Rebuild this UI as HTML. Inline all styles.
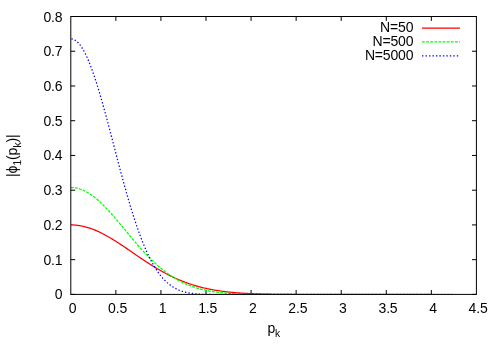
<!DOCTYPE html>
<html><head><meta charset="utf-8"><title>plot</title>
<style>
html,body{margin:0;padding:0;background:#fff;}
body{width:500px;height:350px;overflow:hidden;}
svg{display:block;}
text{font-family:"Liberation Sans",sans-serif;font-size:14.00px;fill:#000;letter-spacing:-0.17px;}
</style></head><body>
<svg width="500" height="350" viewBox="0 0 500 350">
<rect width="500" height="350" fill="#fff"/>
<defs><clipPath id="pc"><rect x="70.80" y="16.50" width="405.60" height="277.90"/></clipPath></defs>
<g stroke="#000" stroke-width="1" fill="none">
<path d="M115.87,294.40v-4.4 M115.87,16.50v4.4"/>
<path d="M160.93,294.40v-4.4 M160.93,16.50v4.4"/>
<path d="M206.00,294.40v-4.4 M206.00,16.50v4.4"/>
<path d="M251.07,294.40v-4.4 M251.07,16.50v4.4"/>
<path d="M296.13,294.40v-4.4 M296.13,16.50v4.4"/>
<path d="M341.20,294.40v-4.4 M341.20,16.50v4.4"/>
<path d="M386.27,294.40v-4.4 M386.27,16.50v4.4"/>
<path d="M431.33,294.40v-4.4 M431.33,16.50v4.4"/>
<path d="M70.80,294.40h4.4 M476.40,294.40h-4.4"/>
<path d="M70.80,259.66h4.4 M476.40,259.66h-4.4"/>
<path d="M476.40,224.92h-4.4"/>
<path d="M70.80,190.19h4.4 M476.40,190.19h-4.4"/>
<path d="M70.80,155.45h4.4 M476.40,155.45h-4.4"/>
<path d="M70.80,120.71h4.4 M476.40,120.71h-4.4"/>
<path d="M70.80,85.97h4.4 M476.40,85.97h-4.4"/>
<path d="M70.80,51.24h4.4 M476.40,51.24h-4.4"/>
<path d="M70.80,16.50h4.4 M476.40,16.50h-4.4"/>
</g>
<g fill="none" stroke-width="1.25" stroke-linejoin="round" clip-path="url(#pc)">
<path d="M70.80,224.92 L71.70,224.92 L72.60,224.95 L73.50,224.98 L74.41,225.04 L75.31,225.10 L76.21,225.19 L77.11,225.28 L78.01,225.39 L78.91,225.52 L79.81,225.66 L80.71,225.82 L81.62,225.99 L82.52,226.17 L83.42,226.37 L84.32,226.58 L85.22,226.81 L86.12,227.05 L87.02,227.30 L87.93,227.57 L88.83,227.85 L89.73,228.14 L90.63,228.45 L91.53,228.77 L92.43,229.10 L93.33,229.44 L94.23,229.80 L95.14,230.17 L96.04,230.55 L96.94,230.94 L97.84,231.34 L98.74,231.76 L99.64,232.18 L100.54,232.61 L101.45,233.06 L102.35,233.51 L103.25,233.98 L104.15,234.45 L105.05,234.94 L105.95,235.43 L106.85,235.93 L107.75,236.44 L108.66,236.95 L109.56,237.48 L110.46,238.01 L111.36,238.55 L112.26,239.09 L113.16,239.65 L114.06,240.20 L114.97,240.77 L115.87,241.34 L116.77,241.91 L117.67,242.49 L118.57,243.08 L119.47,243.67 L120.37,244.26 L121.27,244.86 L122.18,245.46 L123.08,246.06 L123.98,246.67 L124.88,247.28 L125.78,247.89 L126.68,248.50 L127.58,249.12 L128.49,249.74 L129.39,250.35 L130.29,250.97 L131.19,251.59 L132.09,252.21 L132.99,252.83 L133.89,253.45 L134.79,254.07 L135.70,254.69 L136.60,255.31 L137.50,255.92 L138.40,256.54 L139.30,257.15 L140.20,257.76 L141.10,258.37 L142.01,258.97 L142.91,259.58 L143.81,260.18 L144.71,260.78 L145.61,261.37 L146.51,261.96 L147.41,262.55 L148.31,263.13 L149.22,263.71 L150.12,264.29 L151.02,264.86 L151.92,265.43 L152.82,265.99 L153.72,266.55 L154.62,267.10 L155.53,267.65 L156.43,268.19 L157.33,268.73 L158.23,269.26 L159.13,269.78 L160.03,270.30 L160.93,270.82 L161.83,271.33 L162.74,271.83 L163.64,272.32 L164.54,272.81 L165.44,273.30 L166.34,273.78 L167.24,274.25 L168.14,274.71 L169.05,275.17 L169.95,275.62 L170.85,276.07 L171.75,276.51 L172.65,276.94 L173.55,277.37 L174.45,277.78 L175.35,278.20 L176.26,278.60 L177.16,279.00 L178.06,279.39 L178.96,279.78 L179.86,280.16 L180.76,280.53 L181.66,280.90 L182.57,281.26 L183.47,281.61 L184.37,281.95 L185.27,282.29 L186.17,282.63 L187.07,282.95 L187.97,283.27 L188.87,283.59 L189.78,283.89 L190.68,284.19 L191.58,284.49 L192.48,284.78 L193.38,285.06 L194.28,285.33 L195.18,285.60 L196.09,285.87 L196.99,286.13 L197.89,286.38 L198.79,286.62 L199.69,286.87 L200.59,287.10 L201.49,287.33 L202.39,287.55 L203.30,287.77 L204.20,287.99 L205.10,288.19 L206.00,288.40 L206.90,288.59 L207.80,288.79 L208.70,288.97 L209.61,289.16 L210.51,289.33 L211.41,289.51 L212.31,289.68 L213.21,289.84 L214.11,290.00 L215.01,290.15 L215.91,290.30 L216.82,290.45 L217.72,290.59 L218.62,290.73 L219.52,290.87 L220.42,291.00 L221.32,291.12 L222.22,291.25 L223.13,291.37 L224.03,291.48 L224.93,291.59 L225.83,291.70 L226.73,291.81 L227.63,291.91 L228.53,292.01 L229.43,292.11 L230.34,292.20 L231.24,292.29 L232.14,292.38 L233.04,292.46 L233.94,292.54 L234.84,292.62 L235.74,292.70 L236.65,292.77 L237.55,292.84 L238.45,292.91 L239.35,292.98 L240.25,293.04 L241.15,293.10 L242.05,293.16 L242.95,293.22 L243.86,293.28 L244.76,293.33 L245.66,293.38 L246.56,293.43 L247.46,293.48 L248.36,293.53 L249.26,293.57 L250.17,293.61 L251.07,293.65 L251.97,293.69 L252.87,293.73 L253.77,293.77 L254.67,293.81 L255.57,293.84 L256.47,293.87 L257.38,293.90 L258.28,293.93 L259.18,293.96 L260.08,293.99 L260.98,294.02 L261.88,294.04 L262.78,294.07 L263.69,294.09 L264.59,294.12 L265.49,294.14 L266.39,294.16 L267.29,294.18 L268.19,294.20 L269.09,294.22 L269.99,294.23 L270.90,294.25 L271.80,294.27 L272.70,294.28 L273.60,294.30 L274.50,294.31 L275.40,294.33 L276.30,294.34 L277.21,294.35 L278.11,294.36 L279.01,294.38 L279.91,294.39 L280.81,294.40 L281.71,294.41 L282.61,294.42 L283.51,294.43 L284.42,294.43 L285.32,294.44 L286.22,294.45 L287.12,294.46 L288.02,294.46 L288.92,294.47 L289.82,294.48 L290.73,294.48 L291.63,294.49 L292.53,294.50 L293.43,294.50 L294.33,294.51 L295.23,294.51 L296.13,294.52 L297.03,294.52 L297.94,294.52 L298.84,294.53 L299.74,294.53 L300.64,294.54 L301.54,294.54 L302.44,294.54 L303.34,294.55 L304.25,294.55 L305.15,294.55 L306.05,294.55 L306.95,294.56 L307.85,294.56 L308.75,294.56 L309.65,294.56 L310.55,294.57 L311.46,294.57 L312.36,294.57 L313.26,294.57 L314.16,294.57 L315.06,294.57 L315.96,294.58 L316.86,294.58 L317.77,294.58 L318.67,294.58 L319.57,294.58 L320.47,294.58 L321.37,294.58 L322.27,294.58 L323.17,294.58 L324.07,294.59 L324.98,294.59 L325.88,294.59 L326.78,294.59 L327.68,294.59 L328.58,294.59 L329.48,294.59 L330.38,294.59 L331.29,294.59 L332.19,294.59 L333.09,294.59 L333.99,294.59 L334.89,294.59 L335.79,294.59 L336.69,294.59 L337.59,294.59 L338.50,294.59 L339.40,294.60 L340.30,294.60 L341.20,294.60 L342.10,294.60 L343.00,294.60 L343.90,294.60 L344.81,294.60 L345.71,294.60 L346.61,294.60 L347.51,294.60 L348.41,294.60 L349.31,294.60 L350.21,294.60 L351.11,294.60 L352.02,294.60 L352.92,294.60 L353.82,294.60 L354.72,294.60 L355.62,294.60 L356.52,294.60 L357.42,294.60 L358.33,294.60 L359.23,294.60 L360.13,294.60 L361.03,294.60 L361.93,294.60 L362.83,294.60 L363.73,294.60 L364.63,294.60 L365.54,294.60 L366.44,294.60 L367.34,294.60 L368.24,294.60 L369.14,294.60 L370.04,294.60 L370.94,294.60 L371.85,294.60 L372.75,294.60 L373.65,294.60 L374.55,294.60 L375.45,294.60 L376.35,294.60 L377.25,294.60 L378.15,294.60 L379.06,294.60 L379.96,294.60 L380.86,294.60 L381.76,294.60 L382.66,294.60 L383.56,294.60 L384.46,294.60 L385.37,294.60 L386.27,294.60 L387.17,294.60 L388.07,294.60 L388.97,294.60 L389.87,294.60 L390.77,294.60 L391.67,294.60 L392.58,294.60 L393.48,294.60 L394.38,294.60 L395.28,294.60 L396.18,294.60 L397.08,294.60 L397.98,294.60 L398.89,294.60 L399.79,294.60 L400.69,294.60 L401.59,294.60 L402.49,294.60 L403.39,294.60 L404.29,294.60 L405.19,294.60 L406.10,294.60 L407.00,294.60 L407.90,294.60 L408.80,294.60 L409.70,294.60 L410.60,294.60 L411.50,294.60 L412.41,294.60 L413.31,294.60 L414.21,294.60 L415.11,294.60 L416.01,294.60 L416.91,294.60 L417.81,294.60 L418.71,294.60 L419.62,294.60 L420.52,294.60 L421.42,294.60 L422.32,294.60 L423.22,294.60 L424.12,294.60 L425.02,294.60 L425.93,294.60 L426.83,294.60 L427.73,294.60 L428.63,294.60 L429.53,294.60 L430.43,294.60 L431.33,294.60" stroke="#ff0000"/>
<path d="M70.80,187.50 L71.70,187.52 L72.60,187.56 L73.50,187.64 L74.41,187.74 L75.31,187.87 L76.21,188.04 L77.11,188.23 L78.01,188.45 L78.91,188.70 L79.81,188.98 L80.71,189.28 L81.62,189.62 L82.52,189.98 L83.42,190.37 L84.32,190.79 L85.22,191.24 L86.12,191.71 L87.02,192.21 L87.93,192.73 L88.83,193.28 L89.73,193.85 L90.63,194.45 L91.53,195.08 L92.43,195.72 L93.33,196.39 L94.23,197.09 L95.14,197.80 L96.04,198.54 L96.94,199.29 L97.84,200.07 L98.74,200.87 L99.64,201.68 L100.54,202.52 L101.45,203.37 L102.35,204.24 L103.25,205.13 L104.15,206.03 L105.05,206.95 L105.95,207.89 L106.85,208.84 L107.75,209.80 L108.66,210.77 L109.56,211.76 L110.46,212.75 L111.36,213.76 L112.26,214.78 L113.16,215.81 L114.06,216.85 L114.97,217.89 L115.87,218.94 L116.77,220.00 L117.67,221.07 L118.57,222.14 L119.47,223.21 L120.37,224.29 L121.27,225.37 L122.18,226.46 L123.08,227.54 L123.98,228.63 L124.88,229.72 L125.78,230.81 L126.68,231.90 L127.58,232.99 L128.49,234.07 L129.39,235.16 L130.29,236.24 L131.19,237.32 L132.09,238.39 L132.99,239.46 L133.89,240.53 L134.79,241.59 L135.70,242.65 L136.60,243.69 L137.50,244.74 L138.40,245.77 L139.30,246.80 L140.20,247.82 L141.10,248.83 L142.01,249.83 L142.91,250.82 L143.81,251.81 L144.71,252.78 L145.61,253.74 L146.51,254.69 L147.41,255.64 L148.31,256.57 L149.22,257.49 L150.12,258.40 L151.02,259.29 L151.92,260.18 L152.82,261.05 L153.72,261.91 L154.62,262.76 L155.53,263.59 L156.43,264.41 L157.33,265.22 L158.23,266.02 L159.13,266.80 L160.03,267.57 L160.93,268.32 L161.83,269.06 L162.74,269.79 L163.64,270.51 L164.54,271.21 L165.44,271.90 L166.34,272.57 L167.24,273.23 L168.14,273.88 L169.05,274.52 L169.95,275.14 L170.85,275.74 L171.75,276.34 L172.65,276.92 L173.55,277.48 L174.45,278.04 L175.35,278.58 L176.26,279.11 L177.16,279.62 L178.06,280.13 L178.96,280.62 L179.86,281.09 L180.76,281.56 L181.66,282.01 L182.57,282.46 L183.47,282.89 L184.37,283.30 L185.27,283.71 L186.17,284.11 L187.07,284.49 L187.97,284.86 L188.87,285.23 L189.78,285.58 L190.68,285.92 L191.58,286.25 L192.48,286.57 L193.38,286.88 L194.28,287.18 L195.18,287.48 L196.09,287.76 L196.99,288.03 L197.89,288.30 L198.79,288.55 L199.69,288.80 L200.59,289.04 L201.49,289.27 L202.39,289.49 L203.30,289.71 L204.20,289.92 L205.10,290.12 L206.00,290.31 L206.90,290.50 L207.80,290.68 L208.70,290.85 L209.61,291.02 L210.51,291.18 L211.41,291.33 L212.31,291.48 L213.21,291.62 L214.11,291.76 L215.01,291.89 L215.91,292.02 L216.82,292.14 L217.72,292.25 L218.62,292.37 L219.52,292.47 L220.42,292.58 L221.32,292.67 L222.22,292.77 L223.13,292.86 L224.03,292.94 L224.93,293.03 L225.83,293.11 L226.73,293.18 L227.63,293.25 L228.53,293.32 L229.43,293.39 L230.34,293.45 L231.24,293.51 L232.14,293.57 L233.04,293.62 L233.94,293.68 L234.84,293.72 L235.74,293.77 L236.65,293.82 L237.55,293.86 L238.45,293.90 L239.35,293.94 L240.25,293.98 L241.15,294.01 L242.05,294.04 L242.95,294.08 L243.86,294.11 L244.76,294.13 L245.66,294.16 L246.56,294.19 L247.46,294.21 L248.36,294.23 L249.26,294.25 L250.17,294.28 L251.07,294.29 L251.97,294.31 L252.87,294.33 L253.77,294.35 L254.67,294.36 L255.57,294.38 L256.47,294.39 L257.38,294.40 L258.28,294.42 L259.18,294.43 L260.08,294.44 L260.98,294.45 L261.88,294.46 L262.78,294.47 L263.69,294.48 L264.59,294.48 L265.49,294.49 L266.39,294.50 L267.29,294.51 L268.19,294.51 L269.09,294.52 L269.99,294.52 L270.90,294.53 L271.80,294.53 L272.70,294.54 L273.60,294.54 L274.50,294.55 L275.40,294.55 L276.30,294.55 L277.21,294.56 L278.11,294.56 L279.01,294.56 L279.91,294.57 L280.81,294.57 L281.71,294.57 L282.61,294.57 L283.51,294.57 L284.42,294.58 L285.32,294.58 L286.22,294.58 L287.12,294.58 L288.02,294.58 L288.92,294.58 L289.82,294.59 L290.73,294.59 L291.63,294.59 L292.53,294.59 L293.43,294.59 L294.33,294.59 L295.23,294.59 L296.13,294.59 L297.03,294.59 L297.94,294.59 L298.84,294.59 L299.74,294.59 L300.64,294.59 L301.54,294.59 L302.44,294.60 L303.34,294.60 L304.25,294.60 L305.15,294.60 L306.05,294.60 L306.95,294.60 L307.85,294.60 L308.75,294.60 L309.65,294.60 L310.55,294.60 L311.46,294.60 L312.36,294.60 L313.26,294.60 L314.16,294.60 L315.06,294.60 L315.96,294.60 L316.86,294.60 L317.77,294.60 L318.67,294.60 L319.57,294.60 L320.47,294.60 L321.37,294.60 L322.27,294.60 L323.17,294.60 L324.07,294.60 L324.98,294.60 L325.88,294.60 L326.78,294.60 L327.68,294.60 L328.58,294.60 L329.48,294.60 L330.38,294.60 L331.29,294.60 L332.19,294.60 L333.09,294.60 L333.99,294.60 L334.89,294.60 L335.79,294.60 L336.69,294.60 L337.59,294.60 L338.50,294.60 L339.40,294.60 L340.30,294.60 L341.20,294.60 L342.10,294.60 L343.00,294.60 L343.90,294.60 L344.81,294.60 L345.71,294.60 L346.61,294.60 L347.51,294.60 L348.41,294.60 L349.31,294.60 L350.21,294.60 L351.11,294.60 L352.02,294.60 L352.92,294.60 L353.82,294.60 L354.72,294.60 L355.62,294.60 L356.52,294.60 L357.42,294.60 L358.33,294.60 L359.23,294.60 L360.13,294.60 L361.03,294.60 L361.93,294.60 L362.83,294.60 L363.73,294.60 L364.63,294.60 L365.54,294.60 L366.44,294.60 L367.34,294.60 L368.24,294.60 L369.14,294.60 L370.04,294.60 L370.94,294.60 L371.85,294.60 L372.75,294.60 L373.65,294.60 L374.55,294.60 L375.45,294.60 L376.35,294.60 L377.25,294.60 L378.15,294.60 L379.06,294.60 L379.96,294.60 L380.86,294.60 L381.76,294.60 L382.66,294.60 L383.56,294.60 L384.46,294.60 L385.37,294.60 L386.27,294.60 L387.17,294.60 L388.07,294.60 L388.97,294.60 L389.87,294.60 L390.77,294.60 L391.67,294.60 L392.58,294.60 L393.48,294.60 L394.38,294.60 L395.28,294.60 L396.18,294.60 L397.08,294.60 L397.98,294.60 L398.89,294.60 L399.79,294.60 L400.69,294.60 L401.59,294.60 L402.49,294.60 L403.39,294.60 L404.29,294.60 L405.19,294.60 L406.10,294.60 L407.00,294.60 L407.90,294.60 L408.80,294.60 L409.70,294.60 L410.60,294.60 L411.50,294.60 L412.41,294.60 L413.31,294.60 L414.21,294.60 L415.11,294.60 L416.01,294.60 L416.91,294.60 L417.81,294.60 L418.71,294.60 L419.62,294.60 L420.52,294.60 L421.42,294.60 L422.32,294.60 L423.22,294.60 L424.12,294.60 L425.02,294.60 L425.93,294.60 L426.83,294.60 L427.73,294.60 L428.63,294.60 L429.53,294.60 L430.43,294.60 L431.33,294.60" stroke="#00ff00" stroke-dasharray="2.8 1.3"/>
<path d="M70.80,38.83 L71.70,38.89 L72.60,39.06 L73.50,39.36 L74.40,39.77 L75.30,40.30 L76.21,40.94 L77.11,41.71 L78.01,42.58 L78.91,43.57 L79.81,44.67 L80.71,45.88 L81.61,47.20 L82.51,48.63 L83.41,50.16 L84.31,51.80 L85.21,53.54 L86.12,55.38 L87.02,57.32 L87.92,59.35 L88.82,61.47 L89.72,63.69 L90.62,65.99 L91.52,68.38 L92.42,70.85 L93.32,73.39 L94.22,76.02 L95.12,78.71 L96.03,81.48 L96.93,84.32 L97.83,87.21 L98.73,90.17 L99.63,93.18 L100.53,96.25 L101.43,99.37 L102.33,102.53 L103.23,105.74 L104.13,108.98 L105.03,112.27 L105.94,115.58 L106.84,118.93 L107.74,122.30 L108.64,125.69 L109.54,129.11 L110.44,132.53 L111.34,135.97 L112.24,139.42 L113.14,142.88 L114.04,146.34 L114.94,149.79 L115.85,153.25 L116.75,156.69 L117.65,160.13 L118.55,163.55 L119.45,166.96 L120.35,170.35 L121.25,173.71 L122.15,177.06 L123.05,180.37 L123.95,183.66 L124.85,186.92 L125.76,190.14 L126.66,193.33 L127.56,196.48 L128.46,199.59 L129.36,202.65 L130.26,205.68 L131.16,208.65 L132.06,211.58 L132.96,214.47 L133.86,217.30 L134.76,220.08 L135.67,222.81 L136.57,225.48 L137.47,228.10 L138.37,230.66 L139.27,233.17 L140.17,235.62 L141.07,238.01 L141.97,240.34 L142.87,242.62 L143.77,244.84 L144.67,246.99 L145.58,249.09 L146.48,251.13 L147.38,253.11 L148.28,255.03 L149.18,256.89 L150.08,258.69 L150.98,260.43 L151.88,262.12 L152.78,263.75 L153.68,265.32 L154.58,266.83 L155.49,268.29 L156.39,269.70 L157.29,271.05 L158.19,272.34 L159.09,273.59 L159.99,274.78 L160.89,275.93 L161.79,277.02 L162.69,278.07 L163.59,279.07 L164.49,280.02 L165.40,280.93 L166.30,281.80 L167.20,282.62 L168.10,283.40 L169.00,284.14 L169.90,284.85 L170.80,285.52 L171.70,286.15 L172.60,286.74 L173.50,287.30 L174.40,287.83 L175.31,288.33 L176.21,288.80 L177.11,289.25 L178.01,289.66 L178.91,290.05 L179.81,290.41 L180.71,290.75 L181.61,291.06 L182.51,291.36 L183.41,291.63 L184.31,291.89 L185.22,292.13 L186.12,292.35 L187.02,292.55 L187.92,292.74 L188.82,292.91 L189.72,293.07 L190.62,293.21 L191.52,293.35 L192.42,293.47 L193.32,293.59 L194.22,293.69 L195.13,293.78 L196.03,293.87 L196.93,293.95 L197.83,294.02 L198.73,294.08 L199.63,294.14 L200.53,294.19 L201.43,294.24 L202.33,294.28 L203.23,294.32 L204.13,294.35 L205.04,294.38 L205.94,294.41 L206.84,294.43 L207.74,294.45 L208.64,294.47 L209.54,294.49 L210.44,294.50 L211.34,294.52 L212.24,294.53 L213.14,294.54 L214.04,294.55 L214.95,294.56 L215.85,294.56 L216.75,294.57 L217.65,294.57 L218.55,294.58 L219.45,294.58 L220.35,294.58 L221.25,294.59 L222.15,294.59 L223.05,294.59 L223.95,294.59 L224.86,294.59 L225.76,294.59 L226.66,294.60 L227.56,294.60 L228.46,294.60 L229.36,294.60 L230.26,294.60 L231.16,294.60 L232.06,294.60 L232.96,294.60 L233.86,294.60 L234.77,294.60 L235.67,294.60 L236.57,294.60 L237.47,294.60 L238.37,294.60 L239.27,294.60 L240.17,294.60 L241.07,294.60 L241.97,294.60 L242.87,294.60 L243.77,294.60 L244.68,294.60 L245.58,294.60 L246.48,294.60 L247.38,294.60 L248.28,294.60 L249.18,294.60 L250.08,294.60 L250.98,294.60 L251.88,294.60 L252.78,294.60 L253.68,294.60 L254.59,294.60 L255.49,294.60 L256.39,294.60 L257.29,294.60 L258.19,294.60 L259.09,294.60 L259.99,294.60 L260.89,294.60 L261.79,294.60 L262.69,294.60 L263.59,294.60 L264.50,294.60 L265.40,294.60 L266.30,294.60 L267.20,294.60 L268.10,294.60 L269.00,294.60 L269.90,294.60 L270.80,294.60 L271.70,294.60 L272.60,294.60 L273.50,294.60 L274.41,294.60 L275.31,294.60 L276.21,294.60 L277.11,294.60 L278.01,294.60 L278.91,294.60 L279.81,294.60 L280.71,294.60 L281.61,294.60 L282.51,294.60 L283.41,294.60 L284.32,294.60 L285.22,294.60 L286.12,294.60 L287.02,294.60 L287.92,294.60 L288.82,294.60 L289.72,294.60 L290.62,294.60 L291.52,294.60 L292.42,294.60 L293.32,294.60 L294.23,294.60 L295.13,294.60 L296.03,294.60 L296.93,294.60 L297.83,294.60 L298.73,294.60 L299.63,294.60 L300.53,294.60 L301.43,294.60 L302.33,294.60 L303.23,294.60 L304.14,294.60 L305.04,294.60 L305.94,294.60 L306.84,294.60 L307.74,294.60 L308.64,294.60 L309.54,294.60 L310.44,294.60 L311.34,294.60 L312.24,294.60 L313.14,294.60 L314.05,294.60 L314.95,294.60 L315.85,294.60 L316.75,294.60 L317.65,294.60 L318.55,294.60 L319.45,294.60 L320.35,294.60 L321.25,294.60 L322.15,294.60 L323.05,294.60 L323.96,294.60 L324.86,294.60 L325.76,294.60 L326.66,294.60 L327.56,294.60 L328.46,294.60 L329.36,294.60 L330.26,294.60 L331.16,294.60 L332.06,294.60 L332.96,294.60 L333.87,294.60 L334.77,294.60 L335.67,294.60 L336.57,294.60 L337.47,294.60 L338.37,294.60 L339.27,294.60 L340.17,294.60 L341.07,294.60 L341.97,294.60 L342.87,294.60 L343.78,294.60 L344.68,294.60 L345.58,294.60 L346.48,294.60 L347.38,294.60 L348.28,294.60 L349.18,294.60 L350.08,294.60 L350.98,294.60 L351.88,294.60 L352.78,294.60 L353.69,294.60 L354.59,294.60 L355.49,294.60 L356.39,294.60 L357.29,294.60 L358.19,294.60 L359.09,294.60 L359.99,294.60 L360.89,294.60 L361.79,294.60 L362.69,294.60 L363.60,294.60 L364.50,294.60 L365.40,294.60 L366.30,294.60 L367.20,294.60 L368.10,294.60 L369.00,294.60 L369.90,294.60 L370.80,294.60 L371.70,294.60 L372.60,294.60 L373.51,294.60 L374.41,294.60 L375.31,294.60 L376.21,294.60 L377.11,294.60 L378.01,294.60 L378.91,294.60 L379.81,294.60 L380.71,294.60 L381.61,294.60 L382.51,294.60 L383.42,294.60 L384.32,294.60 L385.22,294.60 L386.12,294.60 L387.02,294.60 L387.92,294.60 L388.82,294.60 L389.72,294.60 L390.62,294.60 L391.52,294.60 L392.42,294.60 L393.33,294.60 L394.23,294.60 L395.13,294.60 L396.03,294.60 L396.93,294.60 L397.83,294.60 L398.73,294.60 L399.63,294.60 L400.53,294.60 L401.43,294.60 L402.33,294.60 L403.24,294.60 L404.14,294.60 L405.04,294.60 L405.94,294.60 L406.84,294.60 L407.74,294.60 L408.64,294.60 L409.54,294.60 L410.44,294.60 L411.34,294.60 L412.24,294.60 L413.15,294.60 L414.05,294.60 L414.95,294.60 L415.85,294.60 L416.75,294.60 L417.65,294.60 L418.55,294.60 L419.45,294.60 L420.35,294.60 L421.25,294.60 L422.15,294.60 L423.06,294.60 L423.96,294.60 L424.86,294.60 L425.76,294.60 L426.66,294.60 L427.56,294.60 L428.46,294.60 L429.36,294.60 L430.26,294.60 L431.16,294.60 L432.06,294.60 L432.97,294.60 L433.87,294.60 L434.77,294.60 L435.67,294.60 L436.57,294.60 L437.47,294.60 L438.37,294.60 L439.27,294.60 L440.17,294.60 L441.07,294.60 L441.97,294.60 L442.88,294.60 L443.78,294.60 L444.68,294.60 L445.58,294.60 L446.48,294.60 L447.38,294.60 L448.28,294.60 L449.18,294.60 L450.08,294.60 L450.98,294.60 L451.88,294.60 L452.79,294.60" stroke="#0000ff" stroke-dasharray="1.4 2.05" stroke-dashoffset="-0.6"/>
</g>
<g fill="none" stroke-width="1" clip-path="url(#pc)">
<path d="M291.63,293.5H431.33" stroke="#ff0000" stroke-opacity="0.13"/>
<path d="M260.08,293.5H431.33" stroke="#00ff00" stroke-opacity="0.13" stroke-dasharray="2.8 1.3"/>
<path d="M228.53,293.5H296.13" stroke="#0000ff" stroke-opacity="0.28" stroke-dasharray="1.4 2.05"/>
<path d="M296.13,293.5H452.79" stroke="#0000ff" stroke-opacity="0.14" stroke-dasharray="1.4 2.05"/>
</g>
<rect x="70.80" y="16.50" width="405.60" height="277.90" stroke="#000" stroke-width="1" fill="none"/>
<g fill="none" stroke-width="1.25">
<path d="M422,28.0H460" stroke="#ff0000"/>
<path d="M422,41.8H460" stroke="#00ff00" stroke-dasharray="2.85 1.27"/>
<path d="M422,55.8H460" stroke="#0000ff" stroke-dasharray="1.4 2.08"/>
</g>
<g opacity="0.999">
<text x="413.3" y="32.4" text-anchor="end">N=50</text>
<text x="413.3" y="46.4" text-anchor="end">N=500</text>
<text x="413.3" y="60.4" text-anchor="end">N=5000</text>
<text x="72.5" y="312.7" text-anchor="middle">0</text>
<text x="117.6" y="312.7" text-anchor="middle">0.5</text>
<text x="162.6" y="312.7" text-anchor="middle">1</text>
<text x="207.7" y="312.7" text-anchor="middle">1.5</text>
<text x="252.8" y="312.7" text-anchor="middle">2</text>
<text x="297.8" y="312.7" text-anchor="middle">2.5</text>
<text x="342.9" y="312.7" text-anchor="middle">3</text>
<text x="388.0" y="312.7" text-anchor="middle">3.5</text>
<text x="433.0" y="312.7" text-anchor="middle">4</text>
<text x="478.1" y="312.7" text-anchor="middle">4.5</text>
<text x="62.4" y="299.4" text-anchor="end">0</text>
<text x="62.4" y="264.7" text-anchor="end">0.1</text>
<text x="62.4" y="229.9" text-anchor="end">0.2</text>
<text x="62.4" y="195.2" text-anchor="end">0.3</text>
<text x="62.4" y="160.4" text-anchor="end">0.4</text>
<text x="62.4" y="125.7" text-anchor="end">0.5</text>
<text x="62.4" y="91.0" text-anchor="end">0.6</text>
<text x="62.4" y="56.2" text-anchor="end">0.7</text>
<text x="62.4" y="21.5" text-anchor="end">0.8</text>
<text x="267.4" y="333.0">p<tspan font-size="10.3px" dy="3.7">k</tspan></text>
<text transform="translate(17.1,177.0) rotate(-90)">|&#981;<tspan font-size="11px" dy="4.4">1</tspan><tspan dy="-4.4">(p</tspan><tspan font-size="11px" dy="4.4">k</tspan><tspan dy="-4.4">)|</tspan></text>
</g>
</svg></body></html>
